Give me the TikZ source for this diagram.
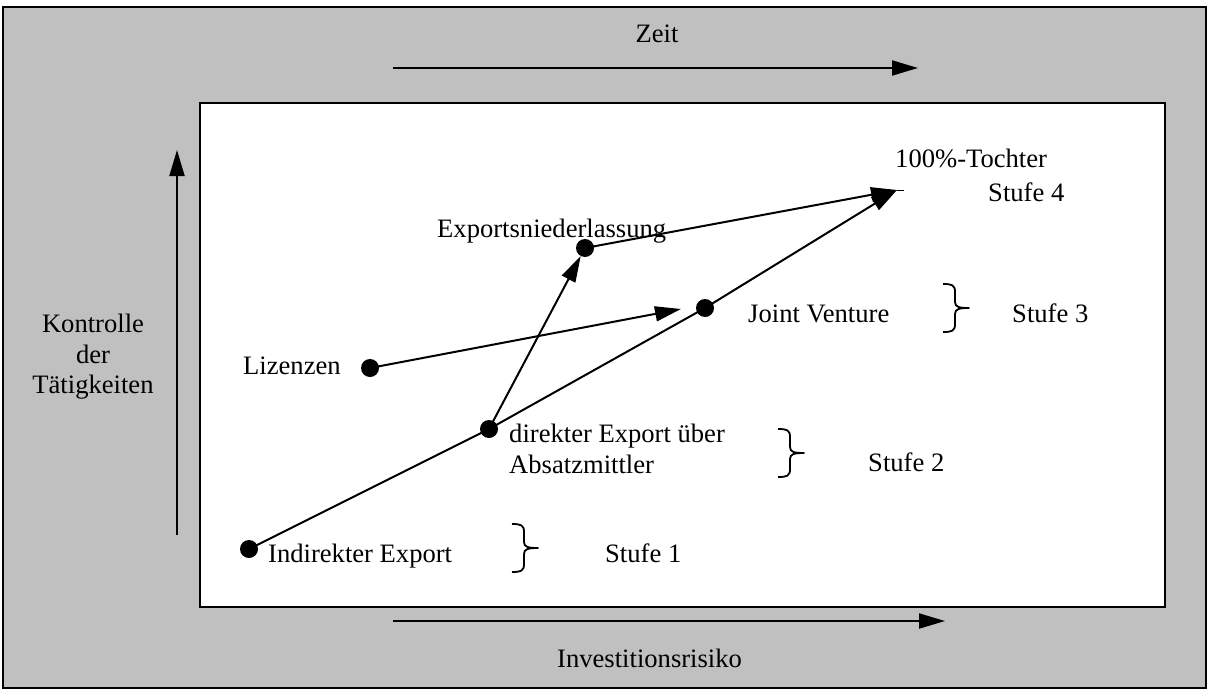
\documentclass[tikz,border=0pt]{standalone}
\usepackage{fontspec}
\setmainfont{Liberation Serif}
\usetikzlibrary{arrows.meta}
\begin{document}
\begin{tikzpicture}[x=1pt,y=-1pt,
  lbl/.style={anchor=base west,inner sep=0pt,font=\fontsize{26.6}{30}\selectfont},
  dot/.style={circle,fill=black,inner sep=0pt,minimum size=18pt},
  conn/.style={line width=2pt},
  tip/.style={-{Triangle[length=26pt,width=15pt]}},
  klammer/.style={line width=1.8pt,line join=round},
  % right-pointing curly brace, 48 high, 26 wide, anchored at its top left end
  stufeklammer/.pic={
    \draw[klammer] (0,0) .. controls (9,0) and (12,1) .. (12,8)
      -- (12,18) .. controls (12,23) and (16,24) .. (26,24)
      .. controls (16,24) and (12,25) .. (12,30)
      -- (12,40) .. controls (12,47) and (9,48) .. (0,48);
  }]
\useasboundingbox (0,0) rectangle (1209,690);
% frame and white panel
\draw[line width=1.5pt,fill={rgb,255:red,192;green,192;blue,192}] (3,7) rectangle (1206,688);
\draw[line width=1.5pt,fill=white] (200,103) rectangle (1165,607);

% axes
\node[lbl,anchor=base] (zeit) at (657,43) {Zeit};
\coordinate (z0) at (393,68);
\coordinate (z1) at (918,68);
\draw[conn,tip] (z0) -- (z1);
\coordinate (r0) at (393,621);
\coordinate (r1) at (945,621);
\draw[conn,tip] (r0) -- (r1);
\node[lbl] (risiko) at (557,667) {Investitionsrisiko};
\coordinate (k0) at (177,535);
\coordinate (k1) at (177,150);
\draw[conn,tip] (k0) -- (k1);
\node[lbl,anchor=base] (k1t) at (93,332) {Kontrolle};
\node[lbl,anchor=base] (k2t) at (93,363) {der};
\node[lbl,anchor=base] (k3t) at (93,393) {Tätigkeiten};

% stages
\node[dot] (ie) at (249,549) {};
\node[dot] (de) at (489,429) {};
\node[dot] (li) at (370,368) {};
\node[dot] (jv) at (705,308) {};
\node[dot] (en) at (585,248) {};
\coordinate (to) at (897,190);
\coordinate (lie) at (681,309);

\draw[conn,tip] (ie.center) -- (de.center) -- (jv.center) -- (to);
\draw[conn,tip] (de.center) -- (en);
\draw[conn,tip] (li.center) -- (lie);
\draw[conn,tip] (en.center) -- (to);
\coordinate (toe) at (904,190);
\draw[line width=1pt] (to) -- (toe);

% labels
\node[lbl] (iet) at (268,562) {Indirekter Export};
\node[lbl] (det1) at (509,442) {direkter Export über};
\node[lbl] (det2) at (509,473) {Absatzmittler};
\node[lbl] (lit) at (243,374) {Lizenzen};
\node[lbl] (jvt) at (748,322) {Joint Venture};
\node[lbl] (ent) at (437,237) {Exportsniederlassung};
\node[lbl] (tot) at (895,167) {100\%-Tochter};

\node[lbl] (s1) at (605,562) {Stufe 1};
\node[lbl] (s2) at (868,471) {Stufe 2};
\node[lbl] (s3) at (1012,322) {Stufe 3};
\node[lbl] (s4) at (988,201) {Stufe 4};

% stage braces
\pic at (512,524) {stufeklammer};
\pic at (778,429) {stufeklammer};
\pic at (943,284) {stufeklammer};
\end{tikzpicture}
\end{document}
